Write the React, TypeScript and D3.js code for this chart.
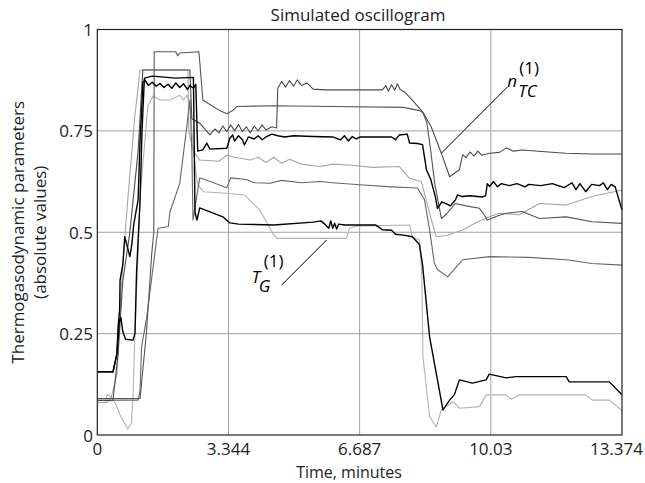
import React from 'react';
import * as d3 from 'd3';

const W = 645;
const H = 483;

const xTicks = [0, 3.344, 6.687, 10.03, 13.374];
const xTickLabels = ['0', '3.344', '6.687', '10.03', '13.374'];
const yTicks = [0, 0.25, 0.5, 0.75, 1];
const yTickLabels = ['0', '0.25', '0.5', '0.75', '1'];

type P = [number, number];

// n_TC (1) – dark gray, top line on the right
const nTC: P[] = [
  [0, 0.085], [0.4, 0.085], [0.53, 0.2], [0.65, 0.38], [0.83, 0.5], [1.04, 0.7], [1.16, 0.9],
  [2.36, 0.9], [2.41, 0.78], [2.61, 0.769], [2.87, 0.74], [3.0, 0.755], [3.1, 0.745], [3.2, 0.762],
  [3.3, 0.748], [3.4, 0.765], [3.5, 0.75], [3.6, 0.766], [3.7, 0.748], [3.8, 0.76], [3.9, 0.745],
  [4.0, 0.762], [4.1, 0.75], [4.2, 0.765], [4.3, 0.752], [4.45, 0.76], [4.57, 0.757], [4.6, 0.855],
  [4.7, 0.872], [4.8, 0.858], [4.9, 0.874], [5.0, 0.86], [5.1, 0.876], [5.2, 0.862], [5.35, 0.868],
  [5.5, 0.853], [5.8, 0.851], [7.27, 0.851], [7.35, 0.862], [7.42, 0.848], [7.5, 0.864], [7.58, 0.85],
  [7.65, 0.866], [7.72, 0.852], [7.83, 0.846], [8.03, 0.826], [8.29, 0.797], [8.51, 0.76], [8.77, 0.695],
  [8.98, 0.637], [9.23, 0.654], [9.31, 0.691], [9.4, 0.684], [9.5, 0.698], [9.6, 0.688], [9.7, 0.7],
  [9.8, 0.69], [10.0, 0.695], [10.25, 0.697], [10.43, 0.708], [10.6, 0.7], [10.83, 0.703], [11.5, 0.698],
  [11.95, 0.695], [12.6, 0.693], [13.374, 0.693],
];

// dark gray line with 0.95 plateau
const upper: P[] = [
  [0, 0.09], [1.09, 0.09], [1.25, 0.25], [1.39, 0.45], [1.44, 0.5], [1.45, 0.945], [2.0, 0.945],
  [2.05, 0.935], [2.1, 0.942], [2.59, 0.945], [2.69, 0.826], [2.87, 0.815], [3.12, 0.8], [3.3, 0.792],
  [3.45, 0.8], [3.55, 0.81], [4.5, 0.812], [6.0, 0.81], [7.8, 0.808], [8.21, 0.8], [8.3, 0.795],
  [8.4, 0.77], [8.5, 0.7], [8.6, 0.62], [8.77, 0.534], [8.9, 0.545], [9.13, 0.571], [9.4, 0.565],
  [9.74, 0.559], [9.85, 0.545], [9.94, 0.53], [10.25, 0.542], [10.43, 0.547], [10.83, 0.551],
  [11.27, 0.534], [11.95, 0.538], [12.61, 0.526], [13.374, 0.522],
];

// black noisy line
const blackA: P[] = [
  [0, 0.156], [0.4, 0.156], [0.5, 0.2], [0.53, 0.267], [0.57, 0.31], [0.58, 0.382], [0.65, 0.42],
  [0.7, 0.489], [0.75, 0.47], [0.83, 0.44], [0.88, 0.47], [0.93, 0.52], [1.04, 0.58], [1.09, 0.727],
  [1.14, 0.82], [1.16, 0.87], [1.22, 0.875], [1.3, 0.862], [1.4, 0.87], [1.5, 0.86], [1.6, 0.867],
  [1.7, 0.857], [1.8, 0.865], [1.9, 0.855], [2.0, 0.868], [2.1, 0.857], [2.2, 0.866], [2.3, 0.852],
  [2.36, 0.862], [2.45, 0.855], [2.51, 0.865], [2.56, 0.7], [2.69, 0.703], [2.79, 0.72], [2.87, 0.705],
  [3.3, 0.707], [3.38, 0.732], [3.45, 0.74], [3.5, 0.725], [3.6, 0.738], [3.7, 0.728], [3.75, 0.715],
  [3.85, 0.735], [4.0, 0.73], [4.1, 0.738], [4.2, 0.728], [4.3, 0.735], [4.45, 0.742], [4.6, 0.738],
  [4.78, 0.735], [5.0, 0.738], [5.5, 0.736], [6.0, 0.735], [6.2, 0.728], [6.3, 0.738], [6.4, 0.725],
  [6.5, 0.736], [6.6, 0.73], [6.7, 0.735], [7.5, 0.735], [7.6, 0.728], [7.7, 0.74], [7.9, 0.742],
  [7.96, 0.72], [8.16, 0.719], [8.29, 0.716], [8.39, 0.654], [8.5, 0.63], [8.62, 0.586], [8.67, 0.559],
  [8.78, 0.575], [8.9, 0.57], [9.0, 0.565], [9.13, 0.58], [9.18, 0.592], [9.3, 0.588], [9.5, 0.59],
  [9.82, 0.587], [9.9, 0.59], [9.94, 0.62], [10.0, 0.613], [10.1, 0.625], [10.2, 0.612], [10.3, 0.62],
  [10.5, 0.615], [10.7, 0.62], [10.9, 0.612], [11.0, 0.618], [11.3, 0.615], [11.6, 0.62], [11.9, 0.61],
  [12.1, 0.622], [12.2, 0.605], [12.3, 0.62], [12.45, 0.6], [12.6, 0.618], [12.8, 0.615], [12.9, 0.622],
  [13.0, 0.605], [13.1, 0.618], [13.2, 0.612], [13.374, 0.555],
];

// light gray, 0.67 level then rising to 0.6
const lightA: P[] = [
  [0, 0.08], [0.25, 0.08], [0.35, 0.09], [0.5, 0.15], [0.6, 0.35], [0.75, 0.55], [0.95, 0.78],
  [1.09, 0.9], [2.31, 0.9], [2.33, 0.75], [2.45, 0.7], [2.61, 0.678], [3.1, 0.675], [3.3, 0.69],
  [3.5, 0.685], [3.9, 0.678], [4.1, 0.685], [4.3, 0.672], [4.5, 0.685], [4.7, 0.67], [4.9, 0.68],
  [5.2, 0.668], [5.67, 0.662], [6.0, 0.668], [6.43, 0.666], [7.0, 0.66], [7.7, 0.662], [7.96, 0.633],
  [8.26, 0.625], [8.38, 0.58], [8.54, 0.522], [8.64, 0.489], [8.9, 0.492], [9.3, 0.505], [9.64, 0.523],
  [9.99, 0.538], [10.25, 0.547], [10.76, 0.543], [11.27, 0.571], [11.95, 0.567], [12.61, 0.588],
  [13.374, 0.604],
];

// dark gray, slow rise, 0.62 level then 0.42
const grayB: P[] = [
  [0, 0.086], [1.04, 0.086], [1.09, 0.11], [1.13, 0.218], [1.26, 0.29], [1.38, 0.382], [1.51, 0.481],
  [1.55, 0.51], [1.81, 0.514], [1.85, 0.55], [2.1, 0.62], [2.28, 0.76], [2.36, 0.826], [2.41, 0.7],
  [2.44, 0.53], [2.61, 0.634], [2.74, 0.63], [3.3, 0.61], [3.4, 0.634], [3.8, 0.63], [4.0, 0.622],
  [4.4, 0.621], [4.7, 0.628], [5.2, 0.622], [5.67, 0.625], [6.0, 0.622], [6.69, 0.617], [7.5, 0.612],
  [8.16, 0.609], [8.34, 0.58], [8.47, 0.506], [8.59, 0.424], [8.67, 0.408], [8.93, 0.39], [9.31, 0.432],
  [10.0, 0.44], [11.0, 0.438], [11.95, 0.432], [12.61, 0.423], [13.374, 0.419],
];

// black, 0.52 level then drops to 0.1
const blackB: P[] = [
  [0, 0.156], [0.4, 0.156], [0.5, 0.2], [0.56, 0.28], [0.6, 0.29], [0.65, 0.255], [0.72, 0.236],
  [0.91, 0.234], [0.96, 0.25], [1.0, 0.4], [1.09, 0.58], [1.14, 0.75], [1.2, 0.88], [1.4, 0.885],
  [2.0, 0.88], [2.45, 0.882], [2.49, 0.55], [2.54, 0.53], [2.61, 0.56], [3.2, 0.538], [3.38, 0.523],
  [3.6, 0.52], [4.5, 0.518], [5.5, 0.525], [5.7, 0.528], [5.8, 0.52], [5.9, 0.51], [5.95, 0.528],
  [6.0, 0.51], [6.05, 0.522], [6.1, 0.508], [6.15, 0.52], [6.3, 0.518], [7.09, 0.518], [7.27, 0.506],
  [7.5, 0.505], [7.6, 0.495], [7.8, 0.493], [8.03, 0.489], [8.21, 0.47], [8.29, 0.42], [8.47, 0.242],
  [8.81, 0.062], [8.98, 0.086], [9.1, 0.099], [9.23, 0.136], [9.56, 0.128], [9.91, 0.136], [9.99, 0.15],
  [10.42, 0.141], [10.67, 0.144], [11.95, 0.144], [12.03, 0.131], [13.05, 0.131], [13.374, 0.099],
];

// light gray, T_G (1)
const tG: P[] = [
  [0, 0.08], [0.2, 0.08], [0.25, 0.1], [0.33, 0.095], [0.45, 0.08], [0.5, 0.07], [0.6, 0.045],
  [0.78, 0.015], [0.87, 0.03], [0.91, 0.094], [0.96, 0.25], [1.1, 0.6], [1.29, 0.81], [1.42, 0.836],
  [1.6, 0.826], [1.85, 0.826], [2.1, 0.838], [2.2, 0.826], [2.28, 0.838], [2.36, 0.82], [2.45, 0.7],
  [2.55, 0.62], [2.7, 0.6], [3.3, 0.596], [3.75, 0.592], [4.14, 0.555], [4.47, 0.498], [4.57, 0.485],
  [6.35, 0.485], [6.43, 0.51], [6.6, 0.515], [7.96, 0.518], [8.03, 0.489], [8.21, 0.481], [8.27, 0.4],
  [8.3, 0.193], [8.47, 0.045], [8.64, 0.02], [8.77, 0.062], [9.07, 0.082], [9.24, 0.066], [9.74, 0.07],
  [9.91, 0.099], [10.42, 0.099], [10.55, 0.088], [10.76, 0.099], [12.45, 0.099], [12.62, 0.086],
  [13.05, 0.086], [13.374, 0.06],
];

const series = [
  { data: tG, color: '#b2b2b2', width: 1.1 },
  { data: lightA, color: '#a6a6a6', width: 1.1 },
  { data: grayB, color: '#666666', width: 1.1 },
  { data: upper, color: '#555555', width: 1.1 },
  { data: nTC, color: '#4a4a4a', width: 1.1 },
  { data: blackB, color: '#000000', width: 1.4 },
  { data: blackA, color: '#000000', width: 1.4 },
];

// annotation anchors (data coordinates)
const nTCPointer: P[] = [[8.77, 0.695], [10.45, 0.858]];
const tGPointer: P[] = [[4.7, 0.37], [5.846, 0.481]];

const FONT = '"Open Sans", "DejaVu Sans", sans-serif';

export default function App() {
  const x = d3.scaleLinear().domain([0, 13.374]).range([97.3, 622]);
  const y = d3.scaleLinear().domain([0, 1]).range([435, 29.5]);
  const line = d3
    .line<P>()
    .x((d) => x(d[0]))
    .y((d) => y(d[1]));

  return (
    <svg
      width={W}
      height={H}
      style={{ position: 'absolute', left: 0, top: 0, background: '#fff' }}
      fontFamily={FONT}
    >
      <rect x={0} y={0} width={W} height={H} fill="#fff" />
      {/* grid */}
      {xTicks.slice(1, -1).map((t) => (
        <line key={'gx' + t} x1={x(t)} x2={x(t)} y1={y(0)} y2={y(1)} stroke="#a0a0a0" strokeWidth={1} />
      ))}
      {yTicks.slice(1, -1).map((t) => (
        <line key={'gy' + t} x1={x(0)} x2={x(13.374)} y1={y(t)} y2={y(t)} stroke="#a0a0a0" strokeWidth={1} />
      ))}
      {/* series */}
      {series.map((s, i) => (
        <path key={i} d={line(s.data) || ''} fill="none" stroke={s.color} strokeWidth={s.width} strokeLinejoin="round" />
      ))}
      {/* frame */}
      <rect x={x(0)} y={y(1)} width={x(13.374) - x(0)} height={y(0) - y(1)} fill="none" stroke="#222" strokeWidth={1.2} />
      {/* x tick labels */}
      {xTicks.map((t, i) => (
        <text
          key={'xt' + i}
          x={i === xTicks.length - 1 ? 643 : x(t)}
          y={455}
          textAnchor={i === xTicks.length - 1 ? 'end' : 'middle'}
          fontSize={17}
          fill="#222"
        >
          {xTickLabels[i]}
        </text>
      ))}
      {/* y tick labels */}
      {yTicks.map((t, i) => (
        <text key={'yt' + i} x={93} y={y(t) + 6.5} textAnchor="end" fontSize={17} fill="#222">
          {yTickLabels[i]}
        </text>
      ))}
      {/* title & axis labels */}
      <text x={358} y={21} textAnchor="middle" fontSize={17} fill="#222">
        Simulated oscillogram
      </text>
      <text x={349} y={478} textAnchor="middle" fontSize={16} fill="#222">
        Time, minutes
      </text>
      <g transform={`translate(0, ${(y(0) + y(1)) / 2}) rotate(-90)`}>
        <text x={0} y={23.5} textAnchor="middle" fontSize={17} fill="#222">
          Thermogasodynamic parameters
        </text>
        <text x={0} y={46} textAnchor="middle" fontSize={17} fill="#222">
          (absolute values)
        </text>
      </g>
      {/* annotations */}
      <line
        x1={x(nTCPointer[0][0])}
        y1={y(nTCPointer[0][1])}
        x2={x(nTCPointer[1][0])}
        y2={y(nTCPointer[1][1])}
        stroke="#000"
        strokeWidth={1}
      />
      <text x={x(nTCPointer[1][0])} y={y(nTCPointer[1][1])} fontSize={17} fontStyle="italic" fill="#000">
        n
      </text>
      <text x={x(nTCPointer[1][0]) + 12} y={y(nTCPointer[1][1]) - 13} fontSize={17} fill="#000">
        (1)
      </text>
      <text x={x(nTCPointer[1][0]) + 11} y={y(nTCPointer[1][1]) + 10} fontSize={17} fontStyle="italic" fill="#000">
        TC
      </text>
      <line
        x1={x(tGPointer[0][0])}
        y1={y(tGPointer[0][1])}
        x2={x(tGPointer[1][0])}
        y2={y(tGPointer[1][1])}
        stroke="#000"
        strokeWidth={1}
      />
      <text x={x(tGPointer[0][0]) - 30} y={y(tGPointer[0][1]) - 2} fontSize={17} fontStyle="italic" fill="#000">
        T
      </text>
      <text x={x(tGPointer[0][0]) - 18} y={y(tGPointer[0][1]) - 18} fontSize={17} fill="#000">
        (1)
      </text>
      <text x={x(tGPointer[0][0]) - 23} y={y(tGPointer[0][1]) + 7} fontSize={17} fontStyle="italic" fill="#000">
        G
      </text>
    </svg>
  );
}
